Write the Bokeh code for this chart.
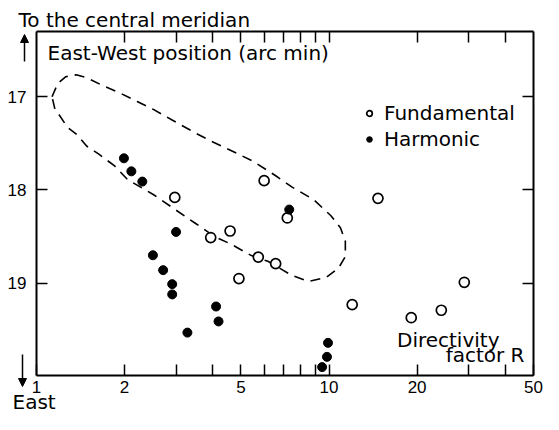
import math
from bokeh.plotting import figure
from bokeh.models import (Range1d, LogAxis, LinearAxis, FixedTicker, Label, Arrow,
                          NormalHead, Legend, LegendItem, Grid)
from bokeh.embed import file_html
from bokeh.resources import INLINE

# ---- data ----
fund_R = [2.97, 3.94, 4.59, 4.92, 5.73, 6.57, 6.00, 7.20, 14.7, 12.0, 19.1, 24.2, 29.0]
fund_pos = [18.08, 18.51, 18.44, 18.95, 18.72, 18.79, 17.90, 18.30, 18.09, 19.23, 19.37, 19.29, 18.99]

harm_R = [1.99, 2.11, 2.30, 3.00, 2.50, 2.71, 2.91, 2.91, 3.28, 4.11, 4.19, 7.31, 9.92, 9.84, 9.47]
harm_pos = [17.66, 17.80, 17.91, 18.45, 18.70, 18.86, 19.01, 19.12, 19.53, 19.25, 19.41, 18.21, 19.64, 19.79, 19.90]

loop_R = [1.130, 1.182, 1.257, 1.367, 1.486, 1.679, 1.926, 2.209, 2.534, 2.929, 3.490, 3.974,
          4.735, 5.513, 6.571, 7.479, 8.846, 10.15, 10.95, 11.37, 11.37, 10.78, 9.767, 8.515,
          7.479, 6.93, 6.18, 5.43, 4.627, 4.065, 3.490, 2.929, 2.515, 2.047, 1.854, 1.629,
          1.486, 1.377, 1.276, 1.201, 1.156, 1.130]
loop_pos = [17.00, 16.857, 16.786, 16.765, 16.796, 16.878, 16.959, 17.051, 17.143, 17.255, 17.388,
            17.480, 17.592, 17.694, 17.847, 17.969, 18.102, 18.276, 18.408, 18.551, 18.714, 18.837,
            18.939, 18.980, 18.918, 18.857, 18.765, 18.704, 18.582, 18.500, 18.357, 18.194, 18.051,
            17.888, 17.745, 17.612, 17.531, 17.408, 17.327, 17.204, 17.133, 17.00]

x_major_ticks = [1, 2, 5, 10, 20, 50]
x_minor_ticks = [3, 4, 6, 7, 8, 9, 30, 40]
x_top_ticks = [2, 3, 4, 5, 6, 7, 8, 9, 10, 20, 30, 40]
y_ticks = [17, 18, 19]

# axis box extents (data)
XMIN, XMAX = 1, 50
YTOP, YBOT = 16.3, 19.99

# ---- layout (pixels on the canvas) ----
W, H = 543, 414
FL, FR, FT, FB = 36, 533, 31, 375      # where the axis box sits
kx = (FR - FL) / math.log(XMAX / XMIN)
ky = (FB - FT) / (YBOT - YTOP)
TEXT_SHIFT = 7   # compensation for how labels sit on their baseline


def xv(px):
    return XMIN * math.exp((px - FL) / kx)


def yv(py):
    return YTOP + (py - FT) / ky


FONT = "DejaVu Sans"
TICKFONT = "Liberation Sans"

p = figure(width=W, height=H, x_axis_type="log", x_axis_location=None, y_axis_location=None,
           x_range=Range1d(xv(0), xv(W)), y_range=Range1d(yv(H), yv(0)),
           output_backend="svg", toolbar_location=None,
           min_border_left=0, min_border_right=0, min_border_top=0, min_border_bottom=0)
p.outline_line_color = None
p.background_fill_color = "white"
p.border_fill_color = "white"
for g in p.select({"type": Grid}):
    g.visible = False


def style(ax):
    ax.axis_line_width = 2
    ax.axis_line_color = "black"
    ax.major_tick_in = 11
    ax.major_tick_out = 0
    ax.minor_tick_in = 11
    ax.minor_tick_out = 0
    ax.major_tick_line_width = 1.5
    ax.minor_tick_line_width = 1.5
    ax.major_tick_line_color = "black"
    ax.minor_tick_line_color = "black"
    ax.major_label_text_font = TICKFONT
    ax.major_label_text_font_size = "17px"
    ax.major_label_text_color = "black"


bx = LogAxis(ticker=FixedTicker(ticks=x_major_ticks, minor_ticks=x_minor_ticks),
             fixed_location=YBOT, bounds=(XMIN, XMAX))
style(bx)
bx.major_label_standoff = 5
p.add_layout(bx, "below")

tx = LogAxis(ticker=FixedTicker(ticks=[], minor_ticks=x_top_ticks),
             fixed_location=YTOP, bounds=(XMIN, XMAX))
style(tx)
p.add_layout(tx, "above")

ly = LinearAxis(ticker=FixedTicker(ticks=y_ticks, minor_ticks=[]),
                fixed_location=XMIN, bounds=(YTOP, YBOT))
style(ly)
ly.major_label_standoff = 10
p.add_layout(ly, "left")

ry = LinearAxis(ticker=FixedTicker(ticks=[], minor_ticks=y_ticks),
                fixed_location=XMAX, bounds=(YTOP, YBOT))
style(ry)
p.add_layout(ry, "right")

# dashed envelope
p.line(loop_R, loop_pos, line_color="black", line_width=1.6, line_dash="10 7")

r_f = p.scatter(fund_R, fund_pos, marker="circle", size=10, fill_color="white",
                line_color="black", line_width=1.7)
r_h = p.scatter(harm_R, harm_pos, marker="circle", size=9, fill_color="black",
                line_color="black")

legend = Legend(items=[LegendItem(label="Fundamental", renderers=[r_f]),
                       LegendItem(label="Harmonic", renderers=[r_h])],
                location=(362, H - 151), border_line_color=None, background_fill_alpha=0,
                padding=0, margin=0, spacing=2, glyph_width=14, glyph_height=22,
                label_height=22, label_standoff=8, label_text_font=FONT,
                label_text_font_size="20px", label_text_color="black")
p.add_layout(legend)


def lab(px, py, text, align="left"):
    p.add_layout(Label(x=xv(px), y=yv(py - TEXT_SHIFT), text=text, text_font=FONT,
                       text_font_size="20px", text_align=align,
                       text_baseline="alphabetic", text_color="black"))


lab(18, 26, "To the central meridian")
lab(47, 59, "East-West position (arc min)")
lab(499, 346, "Directivity", align="right")
lab(524, 361, "factor R", align="right")
lab(12, 408, "East")

p.add_layout(Arrow(x_start=xv(24), y_start=yv(61), x_end=xv(24), y_end=yv(34),
                   line_width=1.5, line_color="black",
                   end=NormalHead(size=8, fill_color="black", line_color="black")))
p.add_layout(Arrow(x_start=xv(22), y_start=yv(354), x_end=xv(22), y_end=yv(386),
                   line_width=1.5, line_color="black",
                   end=NormalHead(size=8, fill_color="black", line_color="black")))

open("out.html", "w").write(file_html(p, INLINE))
